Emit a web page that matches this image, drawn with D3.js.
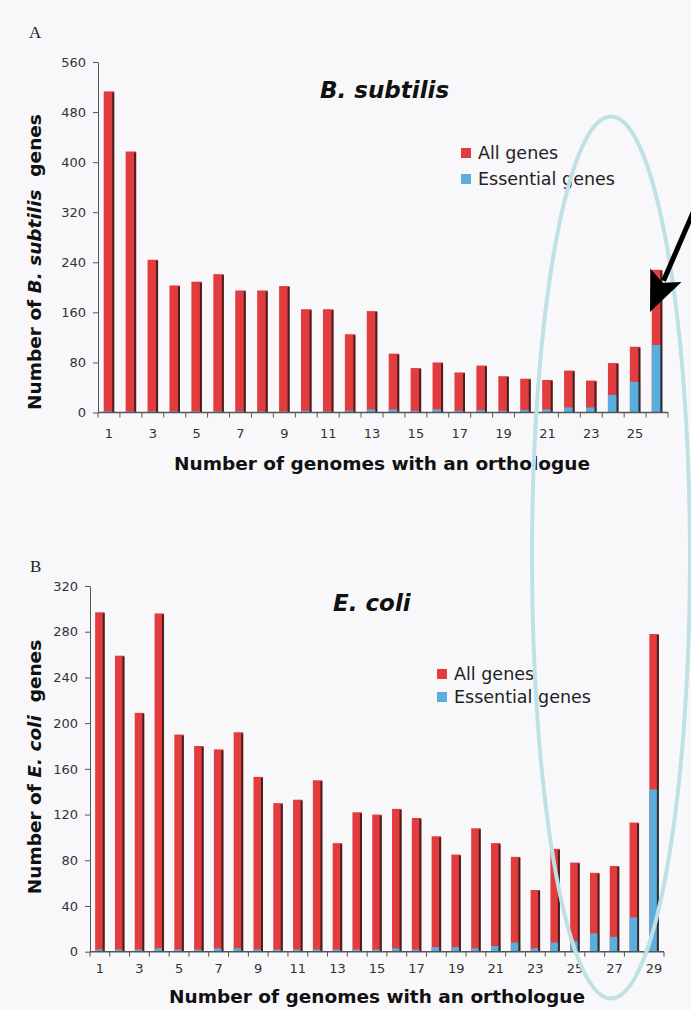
<!DOCTYPE html>
<html>
<head>
<meta charset="utf-8">
<script src="https://cdn.jsdelivr.net/npm/d3@7/dist/d3.min.js"></script>
<style>
  body { margin: 0; background: #f8f8fa; }
  svg { display: block; }
  .tick text { font-family: "DejaVu Sans", Verdana, sans-serif; font-size: 13px; fill: #333; }
  .axis path, .axis line { stroke: #555; }
</style>
</head>
<body>
<div id="chart"></div>
<script>
// Panel A: B. subtilis, 26 genome counts
const catsA = d3.range(1, 27);
const allA = [513, 417, 244, 203, 209, 221, 195, 195, 202, 165, 165, 125, 162, 94, 71, 80, 64, 75, 58, 54, 52, 67, 51, 79, 105, 228];
const essA = [2, 2, 2, 2, 2, 2, 2, 2, 2, 3, 2, 3, 5, 5, 3, 5, 3, 4, 3, 4, 5, 8, 8, 28, 49, 108];
const yTicksA = [0, 80, 160, 240, 320, 400, 480, 560];

// Panel B: E. coli, 29 genome counts
const catsB = d3.range(1, 30);
const allB = [297, 259, 209, 296, 190, 180, 177, 192, 153, 130, 133, 150, 95, 122, 120, 125, 117, 101, 85, 108, 95, 83, 54, 90, 78, 69, 75, 113, 278];
const essB = [2, 2, 2, 3, 2, 2, 3, 3, 2, 2, 2, 2, 2, 2, 2, 3, 2, 4, 4, 3, 5, 8, 3, 8, 9, 16, 13, 30, 142];
const yTicksB = [0, 40, 80, 120, 160, 200, 240, 280, 320];

const legendLabels = ["All genes", "Essential genes"];
const RED = "#e23c3e";
const BLUE = "#5aaede";
const FONT = '"DejaVu Sans", Verdana, sans-serif';

const svg = d3.select("#chart").append("svg")
  .attr("width", 691)
  .attr("height", 1010);

svg.append("rect").attr("width", 691).attr("height", 1010).attr("fill", "#f8f8fa");

function drawPanel(opt) {
  const x = d3.scaleBand()
    .domain(opt.cats)
    .range(opt.xRange)
    .paddingInner(0.52)
    .paddingOuter(0.26);
  const y = d3.scaleLinear()
    .domain([0, opt.yMax])
    .range(opt.yRange);

  const g = svg.append("g");

  // y axis
  g.append("g")
    .attr("class", "axis")
    .attr("transform", `translate(${opt.xRange[0]},0)`)
    .call(d3.axisLeft(y).tickValues(opt.yTicks).tickSize(5).tickPadding(7).tickSizeOuter(0));

  // bars: all genes with essential part overlaid at the bottom
  const bw = x.bandwidth();
  const bars = g.append("g").selectAll("g")
    .data(opt.cats.map((c, i) => ({ c, all: opt.all[i], ess: opt.ess[i] })))
    .join("g");

  bars.append("rect")
    .attr("x", d => x(d.c))
    .attr("y", d => y(d.all))
    .attr("width", bw)
    .attr("height", d => y(0) - y(d.all))
    .attr("fill", RED);

  bars.append("rect")
    .attr("x", d => x(d.c))
    .attr("y", d => y(d.ess))
    .attr("width", bw)
    .attr("height", d => y(0) - y(d.ess))
    .attr("fill", BLUE);

  // dark side edge (3-D look)
  bars.append("rect")
    .attr("x", d => x(d.c) + bw - 2)
    .attr("y", d => y(d.all) + 1)
    .attr("width", 2)
    .attr("height", d => y(0) - y(d.all) - 1)
    .attr("fill", "#2a1a1a")
    .attr("opacity", 0.85);

  // x axis: baseline, boundary ticks, odd labels
  const x0 = opt.xRange[0], step = x.step();
  const base = y(0);
  const ax = g.append("g").attr("class", "axis");
  ax.append("line")
    .attr("x1", x0).attr("x2", opt.xRange[1])
    .attr("y1", base).attr("y2", base)
    .attr("stroke-width", 1.5);
  ax.selectAll("line.tk")
    .data(d3.range(opt.cats.length + 1))
    .join("line")
    .attr("class", "tk")
    .attr("x1", i => x0 + i * step).attr("x2", i => x0 + i * step)
    .attr("y1", base).attr("y2", base + 5);
  ax.selectAll("text")
    .data(opt.cats.filter(c => c % 2 === 1))
    .join("text")
    .attr("x", c => x(c) + bw / 2)
    .attr("y", opt.tickBaseline)
    .attr("text-anchor", "middle")
    .attr("font-family", FONT)
    .attr("font-size", 13)
    .attr("fill", "#333")
    .text(c => c);

  // x title
  g.append("text")
    .attr("x", opt.xTitle[0]).attr("y", opt.xTitle[1])
    .attr("text-anchor", "middle")
    .attr("font-family", FONT)
    .attr("font-weight", "bold")
    .attr("font-size", 18.5)
    .attr("fill", "#111")
    .text("Number of genomes with an orthologue");

  // y title
  const yt = g.append("text")
    .attr("transform", `translate(${opt.yTitle[0]},${opt.yTitle[1]}) rotate(-90)`)
    .attr("text-anchor", "middle")
    .attr("font-family", FONT)
    .attr("font-weight", "bold")
    .attr("font-size", 18.5)
    .attr("fill", "#111");
  yt.append("tspan").text("Number of ");
  yt.append("tspan").attr("font-style", "italic").text(opt.species);
  yt.append("tspan").attr("xml:space", "preserve").text("\u00a0 genes");

  // chart title
  g.append("text")
    .attr("x", opt.title[0]).attr("y", opt.title[1])
    .attr("font-family", FONT)
    .attr("font-weight", "bold")
    .attr("font-style", "italic")
    .attr("font-size", 23)
    .attr("fill", "#111")
    .text(opt.species);

  // legend
  const lg = g.append("g").attr("transform", `translate(${opt.legend[0]},${opt.legend[1]})`);
  lg.selectAll("rect")
    .data(legendLabels)
    .join("rect")
    .attr("x", 0)
    .attr("y", (d, i) => i * opt.legendGap - 11)
    .attr("width", 10).attr("height", 10)
    .attr("fill", (d, i) => i === 0 ? RED : BLUE);
  lg.selectAll("text")
    .data(legendLabels)
    .join("text")
    .attr("x", 17)
    .attr("y", (d, i) => i * opt.legendGap)
    .attr("font-family", FONT)
    .attr("font-size", 17.5)
    .attr("fill", "#222")
    .text(d => d);

  // panel letter
  g.append("text")
    .attr("x", opt.letter[0]).attr("y", opt.letter[1])
    .attr("font-family", '"Liberation Serif", serif')
    .attr("font-size", 17)
    .attr("fill", "#222")
    .text(opt.letterText);
}

drawPanel({
  cats: catsA, all: allA, ess: essA, yTicks: yTicksA, yMax: 560,
  xRange: [98, 668], yRange: [412.5, 62],
  tickBaseline: 438, xTitle: [382, 470], yTitle: [41, 262],
  species: "B. subtilis", title: [320, 98],
  legend: [461, 159], legendGap: 26,
  letter: [29, 38], letterText: "A"
});

drawPanel({
  cats: catsB, all: allB, ess: essB, yTicks: yTicksB, yMax: 320,
  xRange: [90, 664], yRange: [951.7, 586],
  tickBaseline: 973, xTitle: [377, 1003], yTitle: [41, 767],
  species: "E. coli", title: [333, 611],
  legend: [437, 680], legendGap: 23,
  letter: [30, 572], letterText: "B"
});

// highlight ellipse around the last genome counts
svg.append("ellipse")
  .attr("cx", 611).attr("cy", 557.5)
  .attr("rx", 79).attr("ry", 441)
  .attr("fill", "none")
  .attr("stroke", "#bfe1e3")
  .attr("stroke-width", 4);

// arrow pointing at the last bar of panel A
const tip = [650, 312], tail = [708, 178];
const ang = Math.atan2(tip[1] - tail[1], tip[0] - tail[0]);
const headLen = 40, headW = 17;
const bx = tip[0] - headLen * Math.cos(ang), by = tip[1] - headLen * Math.sin(ang);
svg.append("line")
  .attr("x1", tail[0]).attr("y1", tail[1])
  .attr("x2", bx + 6 * Math.cos(ang)).attr("y2", by + 6 * Math.sin(ang))
  .attr("stroke", "#000").attr("stroke-width", 5);
svg.append("path")
  .attr("d", d3.line()([
    tip,
    [bx + headW * Math.sin(ang), by - headW * Math.cos(ang)],
    [bx + 8 * Math.cos(ang), by + 8 * Math.sin(ang)],
    [bx - headW * Math.sin(ang), by + headW * Math.cos(ang)]
  ]) + "Z")
  .attr("fill", "#000");
</script>
</body>
</html>
